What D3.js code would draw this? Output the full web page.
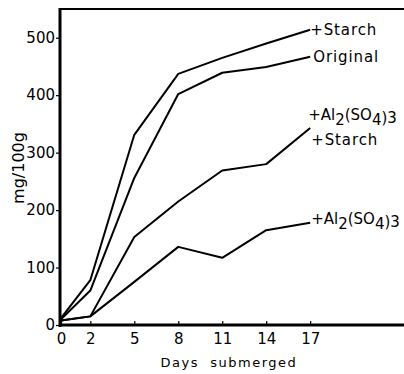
<!DOCTYPE html>
<html><head><meta charset="utf-8">
<script src="https://cdn.jsdelivr.net/npm/d3@7"></script>
<style>body{margin:0;background:#fff}svg{display:block}text{font-family:"DejaVu Sans",sans-serif;fill:#000}</style>
</head><body>
<script>
const days = [0, 2, 5, 8, 11, 14, 17];
const starch = [12, 78, 331, 437, 465, 490, 514];
const original = [10, 60, 256, 402, 439, 449, 467];
const alStarch = [8, 15, 153, 215, 269, 280, 343];
const al = [8, 15, 75, 136, 117, 165, 178];
const yTicks = [0, 100, 200, 300, 400, 500];
const xTicks = [0, 2, 5, 8, 11, 14, 17];
const seriesNames = ["+Starch", "Original", "+Al2(SO4)3 +Starch", "+Al2(SO4)3"];

const W = 404, H = 374;
const svg = d3.select("body").append("svg").attr("width", W).attr("height", H);
const x = d3.scaleLinear().domain([0, 23.4]).range([61, 404]);
const y = d3.scaleLinear().domain([0, 550]).range([325, 9]);

const series = [starch, original, alStarch, al];
const line = d3.line().x((d, i) => x(days[i])).y(d => y(d));
svg.selectAll("path.s").data(series).enter().append("path")
  .attr("class", "s").attr("d", d => line(d))
  .attr("fill", "none").attr("stroke", "#000").attr("stroke-width", 2).attr("stroke-linejoin", "round");

// frame
svg.append("line").attr("x1", 60).attr("x2", 404).attr("y1", y(550)).attr("y2", y(550)).attr("stroke", "#000").attr("stroke-width", 2);

const yAxis = svg.append("g").attr("transform", "translate(60,0)")
  .call(d3.axisLeft(y).tickValues(yTicks).tickSize(4).tickPadding(1).tickFormat(d3.format("d")));
yAxis.select(".domain").remove();
yAxis.selectAll("line").attr("stroke-width", 1.2);
yAxis.selectAll("text").attr("font-size", 15).attr("font-family", "DejaVu Sans");
yAxis.append("line").attr("x1", 0).attr("x2", 0).attr("y1", y(550) - 1).attr("y2", y(0) + 2).attr("stroke", "#000").attr("stroke-width", 3);

const xAxis = svg.append("g").attr("transform", "translate(0,325)")
  .call(d3.axisBottom(x).tickValues(xTicks).tickSizeInner(-4).tickSizeOuter(0).tickPadding(8).tickFormat(d3.format("d")));
xAxis.select(".domain").remove();
xAxis.selectAll("line").attr("stroke-width", 1.2);
xAxis.selectAll("text").attr("font-size", 15).attr("font-family", "DejaVu Sans");
xAxis.append("line").attr("x1", 59).attr("x2", 404).attr("y1", 0).attr("y2", 0).attr("stroke", "#000").attr("stroke-width", 3);

// axis titles
svg.append("text").attr("transform", "translate(24,168) rotate(-90)")
  .attr("text-anchor", "middle").attr("font-size", 16).text("mg/100g");
svg.append("text").attr("x", 229).attr("y", 367).attr("text-anchor", "middle")
  .attr("font-size", 13).attr("letter-spacing", 1.5).style("white-space", "pre").text("Days  submerged");

// series labels
const fs = 15;
function chem(xx, yy) {
  const tx = svg.append("text").attr("x", xx).attr("y", yy).attr("font-size", fs);
  tx.append("tspan").text("+Al");
  tx.append("tspan").attr("dy", 5).text("2");
  tx.append("tspan").attr("dy", -5).text("(SO");
  tx.append("tspan").attr("dy", 5).text("4");
  tx.append("tspan").attr("dy", -2).text(")3");
  return tx;
}
svg.append("text").attr("x", x(17) + 0).attr("y", y(starch[6]) + 5).attr("font-size", fs).attr("letter-spacing", 0.9).text(seriesNames[0]);
svg.append("text").attr("x", x(17) + 3).attr("y", y(original[6]) + 5).attr("font-size", fs).attr("letter-spacing", 0.9).text(seriesNames[1]);
chem(x(17) - 2, y(alStarch[6]) - 8);
svg.append("text").attr("x", x(17) + 1).attr("y", y(alStarch[6]) + 17).attr("font-size", fs).attr("letter-spacing", 0.9).text("+Starch");
chem(x(17) + 1, y(al[6]) + 1);
</script>
</body></html>
